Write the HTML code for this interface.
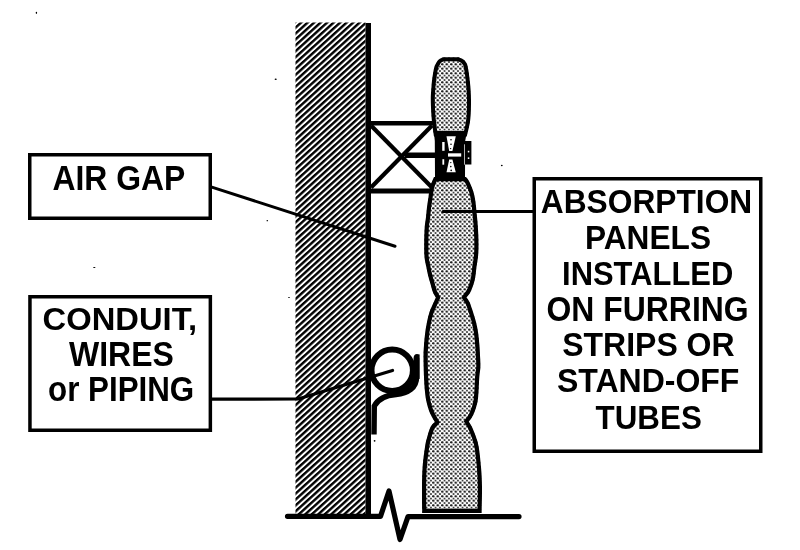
<!DOCTYPE html>
<html><head><meta charset="utf-8">
<style>
html,body{margin:0;padding:0;background:#fff;}
body{width:800px;height:550px;overflow:hidden;}
svg{display:block;will-change:transform;}
text{font-family:"Liberation Sans",sans-serif;font-weight:bold;fill:#000;}
</style></head>
<body>
<svg width="800" height="550" viewBox="0 0 800 550">
<defs>
  <pattern id="hatch" patternUnits="userSpaceOnUse" width="6" height="4.37" patternTransform="translate(0 -1) rotate(-42.2)">
    <rect x="0" y="0" width="6" height="2.4" fill="#000"/>
  </pattern>
  <pattern id="dots" patternUnits="userSpaceOnUse" width="4.5" height="4.5">
    <ellipse cx="1.25" cy="1.25" rx="1.3" ry="1.1" fill="#000"/>
    <ellipse cx="3.5" cy="3.5" rx="0.95" ry="0.8" fill="#000"/>
  </pattern>
</defs>
<rect x="0" y="0" width="800" height="550" fill="#fff"/>

<g fill="#000">
  <ellipse cx="36.4" cy="12.8" rx="0.7" ry="1.1"/>
  <ellipse cx="275.7" cy="79.3" rx="1.1" ry="0.7"/>
  <ellipse cx="267.3" cy="220.7" rx="0.8" ry="0.6"/>
  <ellipse cx="94.3" cy="267.5" rx="1.2" ry="0.6"/>
  <ellipse cx="501.8" cy="165.5" rx="0.9" ry="0.7"/>
  <ellipse cx="289" cy="297.5" rx="0.9" ry="0.5"/>
  <ellipse cx="374.6" cy="440.8" rx="0.9" ry="0.9"/>
</g>
<!-- wall -->
<rect x="295.5" y="22.5" width="70" height="493" fill="url(#hatch)"/>
<rect x="365.5" y="23" width="5.5" height="493" fill="#000"/>

<!-- furring X box -->
<g stroke="#000" fill="none">
  <line x1="370" y1="123.2" x2="435" y2="123.2" stroke-width="4.4"/>
  <line x1="370" y1="191" x2="433" y2="191" stroke-width="5"/>
  <line x1="371" y1="125.5" x2="432" y2="187.5" stroke-width="4.2"/>
  <line x1="432" y1="125.5" x2="371" y2="187.5" stroke-width="4.2"/>
</g>
<rect x="405" y="152.5" width="31" height="5.5" fill="#000"/>

<!-- panels -->
<clipPath id="ctop"><path d="M443.00,57.30 L459.00,57.30 C459.72,57.67 462.17,58.72 463.30,59.50 C464.43,60.28 465.07,60.85 465.80,62.00 C466.53,63.15 467.02,63.10 467.70,66.40 C468.38,69.70 469.35,76.20 469.90,81.80 C470.45,87.40 470.95,93.63 471.00,100.00 C471.05,106.37 470.90,113.92 470.20,120.00 C469.50,126.08 467.37,133.75 466.80,136.50 L434.00,136.50 C433.63,133.75 432.33,126.08 431.80,120.00 C431.27,113.92 430.85,105.60 430.80,100.00 C430.75,94.40 431.22,90.23 431.50,86.40 C431.78,82.57 432.03,80.18 432.50,77.00 C432.97,73.82 433.68,69.63 434.30,67.30 C434.92,64.97 435.45,64.30 436.20,63.00 C436.95,61.70 437.67,60.45 438.80,59.50 C439.93,58.55 442.30,57.67 443.00,57.30 Z"/></clipPath>
<clipPath id="cstack"><path d="M466.00,177.00 C466.58,177.83 468.25,179.50 469.50,182.00 C470.75,184.50 472.50,188.67 473.50,192.00 C474.50,195.33 475.00,198.67 475.50,202.00 C476.00,205.33 476.17,208.67 476.50,212.00 C476.83,215.33 477.20,218.17 477.50,222.00 C477.80,225.83 478.13,230.83 478.30,235.00 C478.47,239.17 478.55,243.33 478.50,247.00 C478.45,250.67 478.33,253.67 478.00,257.00 C477.67,260.33 476.95,263.67 476.50,267.00 C476.05,270.33 475.78,274.17 475.30,277.00 C474.82,279.83 474.40,281.50 473.60,284.00 C472.80,286.50 471.68,289.75 470.50,292.00 C469.32,294.25 467.17,296.58 466.50,297.50 C467.00,298.25 468.42,299.58 469.50,302.00 C470.58,304.42 471.92,308.67 473.00,312.00 C474.08,315.33 475.17,318.67 476.00,322.00 C476.83,325.33 477.43,328.17 478.00,332.00 C478.57,335.83 479.05,340.83 479.40,345.00 C479.75,349.17 479.93,353.33 480.10,357.00 C480.27,360.67 480.53,363.67 480.40,367.00 C480.27,370.33 479.62,372.83 479.30,377.00 C478.98,381.17 478.80,387.83 478.50,392.00 C478.20,396.17 478.17,398.67 477.50,402.00 C476.83,405.33 475.50,409.33 474.50,412.00 C473.50,414.67 472.45,416.42 471.50,418.00 C470.55,419.58 469.25,420.92 468.80,421.50 C469.33,422.42 470.80,424.42 472.00,427.00 C473.20,429.58 474.88,433.67 476.00,437.00 C477.12,440.33 477.87,442.00 478.70,447.00 C479.53,452.00 480.45,460.33 481.00,467.00 C481.55,473.67 481.90,479.33 482.00,487.00 C482.10,494.67 481.67,508.67 481.60,513.00 L422.20,513.00 C422.17,508.67 421.93,494.67 422.00,487.00 C422.07,479.33 422.10,473.67 422.60,467.00 C423.10,460.33 424.23,452.00 425.00,447.00 C425.77,442.00 426.28,440.33 427.20,437.00 C428.12,433.67 429.23,429.50 430.50,427.00 C431.77,424.50 434.08,422.83 434.80,422.00 C434.42,421.33 433.38,419.67 432.50,418.00 C431.62,416.33 430.50,414.67 429.50,412.00 C428.50,409.33 427.25,405.33 426.50,402.00 C425.75,398.67 425.42,396.17 425.00,392.00 C424.58,387.83 424.25,382.83 424.00,377.00 C423.75,371.17 423.50,362.33 423.50,357.00 C423.50,351.67 423.70,349.17 424.00,345.00 C424.30,340.83 424.80,335.83 425.30,332.00 C425.80,328.17 426.30,325.33 427.00,322.00 C427.70,318.67 428.37,315.33 429.50,312.00 C430.63,308.67 432.75,304.42 433.80,302.00 C434.85,299.58 435.47,298.25 435.80,297.50 C435.30,296.58 433.68,294.25 432.80,292.00 C431.92,289.75 431.22,286.50 430.50,284.00 C429.78,281.50 429.20,279.83 428.50,277.00 C427.80,274.17 426.97,270.33 426.30,267.00 C425.63,263.67 424.85,261.17 424.50,257.00 C424.15,252.83 424.17,247.00 424.20,242.00 C424.23,237.00 424.40,231.17 424.70,227.00 C425.00,222.83 425.62,220.33 426.00,217.00 C426.38,213.67 426.58,210.33 427.00,207.00 C427.42,203.67 428.00,200.33 428.50,197.00 C429.00,193.67 429.08,190.33 430.00,187.00 C430.92,183.67 433.33,178.67 434.00,177.00 Z"/></clipPath>
<path d="M443.00,57.30 L459.00,57.30 C459.72,57.67 462.17,58.72 463.30,59.50 C464.43,60.28 465.07,60.85 465.80,62.00 C466.53,63.15 467.02,63.10 467.70,66.40 C468.38,69.70 469.35,76.20 469.90,81.80 C470.45,87.40 470.95,93.63 471.00,100.00 C471.05,106.37 470.90,113.92 470.20,120.00 C469.50,126.08 467.37,133.75 466.80,136.50 L434.00,136.50 C433.63,133.75 432.33,126.08 431.80,120.00 C431.27,113.92 430.85,105.60 430.80,100.00 C430.75,94.40 431.22,90.23 431.50,86.40 C431.78,82.57 432.03,80.18 432.50,77.00 C432.97,73.82 433.68,69.63 434.30,67.30 C434.92,64.97 435.45,64.30 436.20,63.00 C436.95,61.70 437.67,60.45 438.80,59.50 C439.93,58.55 442.30,57.67 443.00,57.30 Z" fill="url(#dots)" stroke="#000" stroke-width="8" clip-path="url(#ctop)"/>
<path d="M466.00,177.00 C466.58,177.83 468.25,179.50 469.50,182.00 C470.75,184.50 472.50,188.67 473.50,192.00 C474.50,195.33 475.00,198.67 475.50,202.00 C476.00,205.33 476.17,208.67 476.50,212.00 C476.83,215.33 477.20,218.17 477.50,222.00 C477.80,225.83 478.13,230.83 478.30,235.00 C478.47,239.17 478.55,243.33 478.50,247.00 C478.45,250.67 478.33,253.67 478.00,257.00 C477.67,260.33 476.95,263.67 476.50,267.00 C476.05,270.33 475.78,274.17 475.30,277.00 C474.82,279.83 474.40,281.50 473.60,284.00 C472.80,286.50 471.68,289.75 470.50,292.00 C469.32,294.25 467.17,296.58 466.50,297.50 C467.00,298.25 468.42,299.58 469.50,302.00 C470.58,304.42 471.92,308.67 473.00,312.00 C474.08,315.33 475.17,318.67 476.00,322.00 C476.83,325.33 477.43,328.17 478.00,332.00 C478.57,335.83 479.05,340.83 479.40,345.00 C479.75,349.17 479.93,353.33 480.10,357.00 C480.27,360.67 480.53,363.67 480.40,367.00 C480.27,370.33 479.62,372.83 479.30,377.00 C478.98,381.17 478.80,387.83 478.50,392.00 C478.20,396.17 478.17,398.67 477.50,402.00 C476.83,405.33 475.50,409.33 474.50,412.00 C473.50,414.67 472.45,416.42 471.50,418.00 C470.55,419.58 469.25,420.92 468.80,421.50 C469.33,422.42 470.80,424.42 472.00,427.00 C473.20,429.58 474.88,433.67 476.00,437.00 C477.12,440.33 477.87,442.00 478.70,447.00 C479.53,452.00 480.45,460.33 481.00,467.00 C481.55,473.67 481.90,479.33 482.00,487.00 C482.10,494.67 481.67,508.67 481.60,513.00 L422.20,513.00 C422.17,508.67 421.93,494.67 422.00,487.00 C422.07,479.33 422.10,473.67 422.60,467.00 C423.10,460.33 424.23,452.00 425.00,447.00 C425.77,442.00 426.28,440.33 427.20,437.00 C428.12,433.67 429.23,429.50 430.50,427.00 C431.77,424.50 434.08,422.83 434.80,422.00 C434.42,421.33 433.38,419.67 432.50,418.00 C431.62,416.33 430.50,414.67 429.50,412.00 C428.50,409.33 427.25,405.33 426.50,402.00 C425.75,398.67 425.42,396.17 425.00,392.00 C424.58,387.83 424.25,382.83 424.00,377.00 C423.75,371.17 423.50,362.33 423.50,357.00 C423.50,351.67 423.70,349.17 424.00,345.00 C424.30,340.83 424.80,335.83 425.30,332.00 C425.80,328.17 426.30,325.33 427.00,322.00 C427.70,318.67 428.37,315.33 429.50,312.00 C430.63,308.67 432.75,304.42 433.80,302.00 C434.85,299.58 435.47,298.25 435.80,297.50 C435.30,296.58 433.68,294.25 432.80,292.00 C431.92,289.75 431.22,286.50 430.50,284.00 C429.78,281.50 429.20,279.83 428.50,277.00 C427.80,274.17 426.97,270.33 426.30,267.00 C425.63,263.67 424.85,261.17 424.50,257.00 C424.15,252.83 424.17,247.00 424.20,242.00 C424.23,237.00 424.40,231.17 424.70,227.00 C425.00,222.83 425.62,220.33 426.00,217.00 C426.38,213.67 426.58,210.33 427.00,207.00 C427.42,203.67 428.00,200.33 428.50,197.00 C429.00,193.67 429.08,190.33 430.00,187.00 C430.92,183.67 433.33,178.67 434.00,177.00 Z" fill="url(#dots)" stroke="#000" stroke-width="8.4" clip-path="url(#cstack)"/>

<!-- connector -->
<path d="M433.8,131 L467,131 L465.2,141 L465,177 L435,177 L434.8,141 Z" fill="#000"/>
<rect x="464" y="141" width="7.4" height="23.5" fill="#000"/>
<g fill="#fff">
  <path d="M446.5,136.3 L455.8,136.3 L452.4,151 L449.2,151 Z"/>
  <path d="M449.2,159.4 L452.4,159.4 L455.8,172.3 L446.5,172.3 Z"/>
  <rect x="448" y="153.3" width="13.2" height="3.3"/>
  <rect x="442.2" y="142" width="2.4" height="8.8"/>
  <rect x="442.4" y="159.2" width="1.8" height="5.5"/>
  <rect x="464.2" y="144.3" width="0.7" height="20.4"/>
  <rect x="467.8" y="150.8" width="1.5" height="1.6"/>
  <rect x="467.8" y="157.4" width="1.5" height="1.6"/>
</g>
<g fill="#000">
  <circle cx="451" cy="139.8" r="0.8"/>
  <circle cx="451" cy="144.3" r="0.8"/>
  <circle cx="450.6" cy="148.6" r="0.7"/>
  <circle cx="450.8" cy="162.6" r="0.7"/>
  <circle cx="450.8" cy="166.6" r="0.8"/>
  <circle cx="451.2" cy="170.4" r="0.8"/>
</g>

<!-- floor -->
<polyline points="287.5,516.3 380.5,516.3 389,491 400,539.5 408,516.6 519,516.6" fill="none" stroke="#000" stroke-width="5.2" stroke-linejoin="round" stroke-linecap="round"/>

<!-- pipe -->
<path d="M416.6,358 L416.6,377 C416.6,388 408,393.5 396,394.5 C386,395.3 378,399 374.3,406 L374,434.5" fill="none" stroke="#000" stroke-width="5.4"/>
<circle cx="392.2" cy="370.3" r="20.7" fill="none" stroke="#000" stroke-width="6"/>
<path d="M415.2,368 A23.2,23.2 0 0 1 392.2,393.5" fill="none" stroke="#000" stroke-width="3.5"/>
<path d="M413.6,358 Q413.8,354 417,354 L419.6,354.6 L419.6,379 L413.6,379 Z" fill="#000"/>
<!-- leaders -->
<g stroke="#000" stroke-width="3" fill="none" stroke-linecap="round">
  <line x1="211" y1="186.9" x2="395" y2="246.3"/>
  <polyline points="212,399.2 298,399 392.5,370.5" stroke-width="3.2" stroke-linejoin="round"/>
  <line x1="443" y1="211.5" x2="533" y2="211.5" stroke-width="3"/>
</g>

<!-- boxes -->
<g stroke="#000" stroke-width="3.5" fill="#fff">
  <rect x="29.75" y="154.75" width="180.5" height="63.5"/>
  <rect x="29.95" y="296.75" width="180.4" height="133.5"/>
  <rect x="534.25" y="178.75" width="226.5" height="272.5"/>
</g>

<text transform="translate(52.5 190.0) scale(0.9962 1.0909)" font-size="32" >AIR GAP</text>
<text transform="translate(42.58 330.0) scale(1.023 1.0)" font-size="32" >CONDUIT,</text>
<text transform="translate(69.0 366.0) scale(1.0 1.0682)" font-size="32" >WIRES</text>
<text transform="translate(48.02 401.0) scale(0.9795 1.0909)" font-size="32" >or PIPING</text>
<text transform="translate(540.81 212.8) scale(0.9914 1.0545)" font-size="32" >ABSORPTION</text>
<text transform="translate(585.02 248.6) scale(0.9887 1.0364)" font-size="32" >PANELS</text>
<text transform="translate(562.07 285.3) scale(0.9667 1.0591)" font-size="32" >INSTALLED</text>
<text transform="translate(546.5 320.7) scale(0.9975 1.0773)" font-size="32" >ON FURRING</text>
<text transform="translate(562.2 356.4) scale(1.0 1.0636)" font-size="32" >STRIPS OR</text>
<text transform="translate(556.9 392.3) scale(1.0006 1.0591)" font-size="32" >STAND-OFF</text>
<text transform="translate(595.6 429.0) scale(0.9794 1.0636)" font-size="32" >TUBES</text>

</svg>
</body></html>
